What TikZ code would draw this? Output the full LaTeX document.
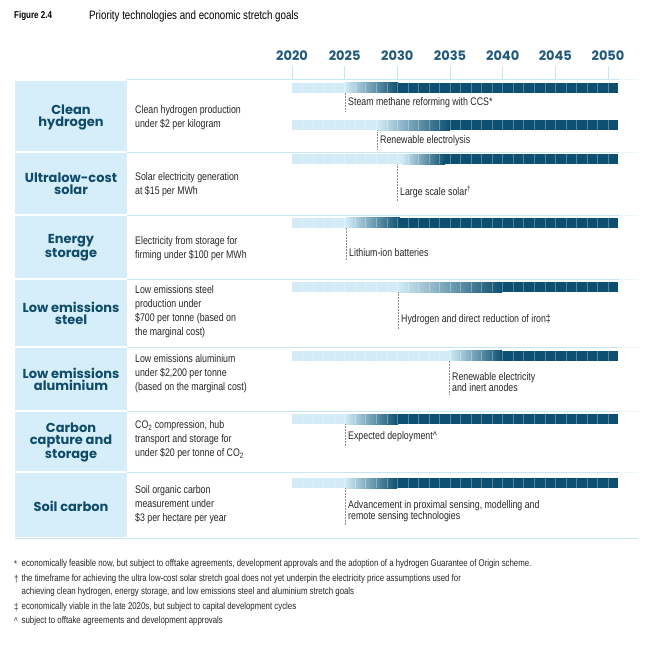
\documentclass[tikz,border=0pt]{standalone}
\usepackage{fontspec}
\setmainfont{Liberation Sans}[FakeStretch=0.8]
\newfontfamily\catfont{Poppins}
\definecolor{dark}{HTML}{0D4F70}
\definecolor{lite}{HTML}{D2EBF7}
\definecolor{catbg}{HTML}{D6EEF9}
\definecolor{sepc}{HTML}{C7E6F4}
\definecolor{cattext}{HTML}{0F4C6C}
\definecolor{yeartext}{HTML}{20597A}
\newcommand\techbar[3]{%
  \fill[lite] (292,#1) rectangle (#2,#1+10);
  \shade[left color=lite,right color=dark] (#2,#1) rectangle (#3,#1+10);
  \fill[dark] (#3,#1) rectangle (618,#1+10);
  \foreach \k in {1,...,30} \draw[white, opacity=0.3, line width=0.5] (292+\k*10.5333,#1) -- (292+\k*10.5333,#1+10);
}
\tikzset{
  cat/.style={font=\catfont\bfseries\fontsize{13}{12}\selectfont, text=cattext, align=center, inner sep=0},
  desc/.style={font=\fontsize{11}{14}\selectfont, anchor=west, align=left, inner sep=0, text=black!85},
  lbl/.style={font=\fontsize{11}{11.5}\selectfont, anchor=west, align=left, inner sep=0, text=black!85},
  year/.style={font=\catfont\bfseries\fontsize{13}{13}\selectfont, text=yeartext, inner sep=0},
  yeartick/.style={draw=sepc, line width=0.8},
  leader/.style={draw=black!45, densely dotted, line width=0.5},
  rowsep/.style={draw=sepc, line width=1},
  foot/.style={font=\fontsize{9.8}{13}\selectfont, anchor=west, inner sep=0, align=left, text=black!85},
}
\begin{document}
\begin{tikzpicture}[x=1pt,y=-1pt]
\useasboundingbox (0,0) rectangle (650,650);
% title
\node[anchor=west, inner sep=0, font=\bfseries\fontsize{10}{10}\selectfont] (fig) at (14,16) {Figure 2.4};
\node[anchor=west, inner sep=0, font=\fontsize{12.2}{12.2}\selectfont] (title) at (89,16) {Priority technologies and economic stretch goals};
% years
\foreach \yr [count=\i from 0] in {2020,2025,2030,2035,2040,2045,2050} {
  \node[year] (y\yr) at (292+\i*52.667,56) {\yr};
  \draw[yeartick] (292+\i*52.667,66) -- (292+\i*52.667,80);
}
% category cells
\foreach \t/\b in {80/152,152/215,215/279,279/347,347/411,411/472,472/538}
  \fill[catbg] (15,\t+1) rectangle (127,\b-1);
% separators
\foreach \s in {80,152,215,279,347,411,472} {
  \draw[rowsep] (127,\s) -- (618,\s);
  \draw[rowsep, dotted] (618,\s) -- (638,\s);
}
\draw[rowsep] (15,538) -- (638,538);
% categories
\node[cat] (c1) at (71,117) {Clean\\hydrogen};
\node[cat] (c2) at (71,184) {Ultralow-cost\\solar};
\node[cat] (c3) at (71,248) {Energy\\storage};
\node[cat] (c4) at (71,313.5) {Low emissions\\steel};
\node[cat] (c5) at (71,379.5) {Low emissions\\aluminium};
\node[cat] (c6) at (71,442.5) {Carbon\\capture and\\storage};
\node[cat] (c7) at (71,506) {Soil carbon};
% descriptions
\node[desc] (d1) at (135,118) {Clean hydrogen production\\under \$2 per kilogram};
\node[desc] (d2) at (135,185) {Solar electricity generation\\at \$15 per MWh};
\node[desc] (d3) at (135,249) {Electricity from storage for\\firming under \$100 per MWh};
\node[desc] (d4) at (135,312) {Low emissions steel\\production under\\\$700 per tonne (based on\\the marginal cost)};
\node[desc] (d5) at (135,374) {Low emissions aluminium\\under \$2,200 per tonne\\(based on the marginal cost)};
\node[desc] (d6) at (135,440) {CO\textsubscript{2} compression, hub\\transport and storage for\\under \$20 per tonne of CO\textsubscript{2}};
\node[desc] (d7) at (135,505) {Soil organic carbon\\measurement under\\\$3 per hectare per year};
% bars
\techbar{83}{345}{398}
\techbar{120.5}{377}{450}
\techbar{154}{402}{445}
\techbar{217.5}{346}{400}
\techbar{282}{398}{502}
\techbar{350.5}{449}{502}
\techbar{414}{345}{398}
\techbar{478}{345}{397}
% leaders and labels
\coordinate (p1) at (345,93);
\coordinate (p2) at (377,130.5);
\coordinate (p3) at (397,164);
\coordinate (p4) at (346,227.5);
\coordinate (p5) at (398,292);
\coordinate (p6) at (449,360.5);
\coordinate (p7) at (345,424);
\coordinate (p8) at (345,488);
\node[lbl] (l1) at (348,103) {Steam methane reforming with CCS*};
\node[lbl] (l2) at (380,141) {Renewable electrolysis};
\node[lbl] (l3) at (400,192) {Large scale solar\textsuperscript{†}};
\node[lbl] (l4) at (349,253) {Lithium-ion batteries};
\node[lbl] (l5) at (401,320) {Hydrogen and direct reduction of iron‡};
\node[lbl] (l6) at (452,382) {Renewable electricity\\and inert anodes};
\node[lbl] (l7) at (348,437) {Expected deployment\textasciicircum};
\node[lbl] (l8) at (348,511) {Advancement in proximal sensing, modelling and\\remote sensing technologies};
\foreach \i in {1,...,8}
  \draw[leader] (p\i) -- ([yshift=-3pt]p\i |- l\i.south);
% footnotes
\node[foot] (s1) at (14,564) {*};
\node[foot] (f1) at (21.5,564) {economically feasible now, but subject to offtake agreements, development approvals and the adoption of a hydrogen Guarantee of Origin scheme.};
\node[foot] (s2) at (14,579) {†};
\node[foot, anchor=north west] (f2) at (21.5,574) {the timeframe for achieving the ultra low-cost solar stretch goal does not yet underpin the electricity price assumptions used for\\achieving clean hydrogen, energy storage, and low emissions steel and aluminium stretch goals};
\node[foot] (s3) at (14,607) {‡};
\node[foot] (f3) at (21.5,607) {economically viable in the late 2020s, but subject to capital development cycles};
\node[foot] (s4) at (14,621) {\textasciicircum};
\node[foot] (f4) at (21.5,621) {subject to offtake agreements and development approvals};
\end{tikzpicture}
\end{document}
